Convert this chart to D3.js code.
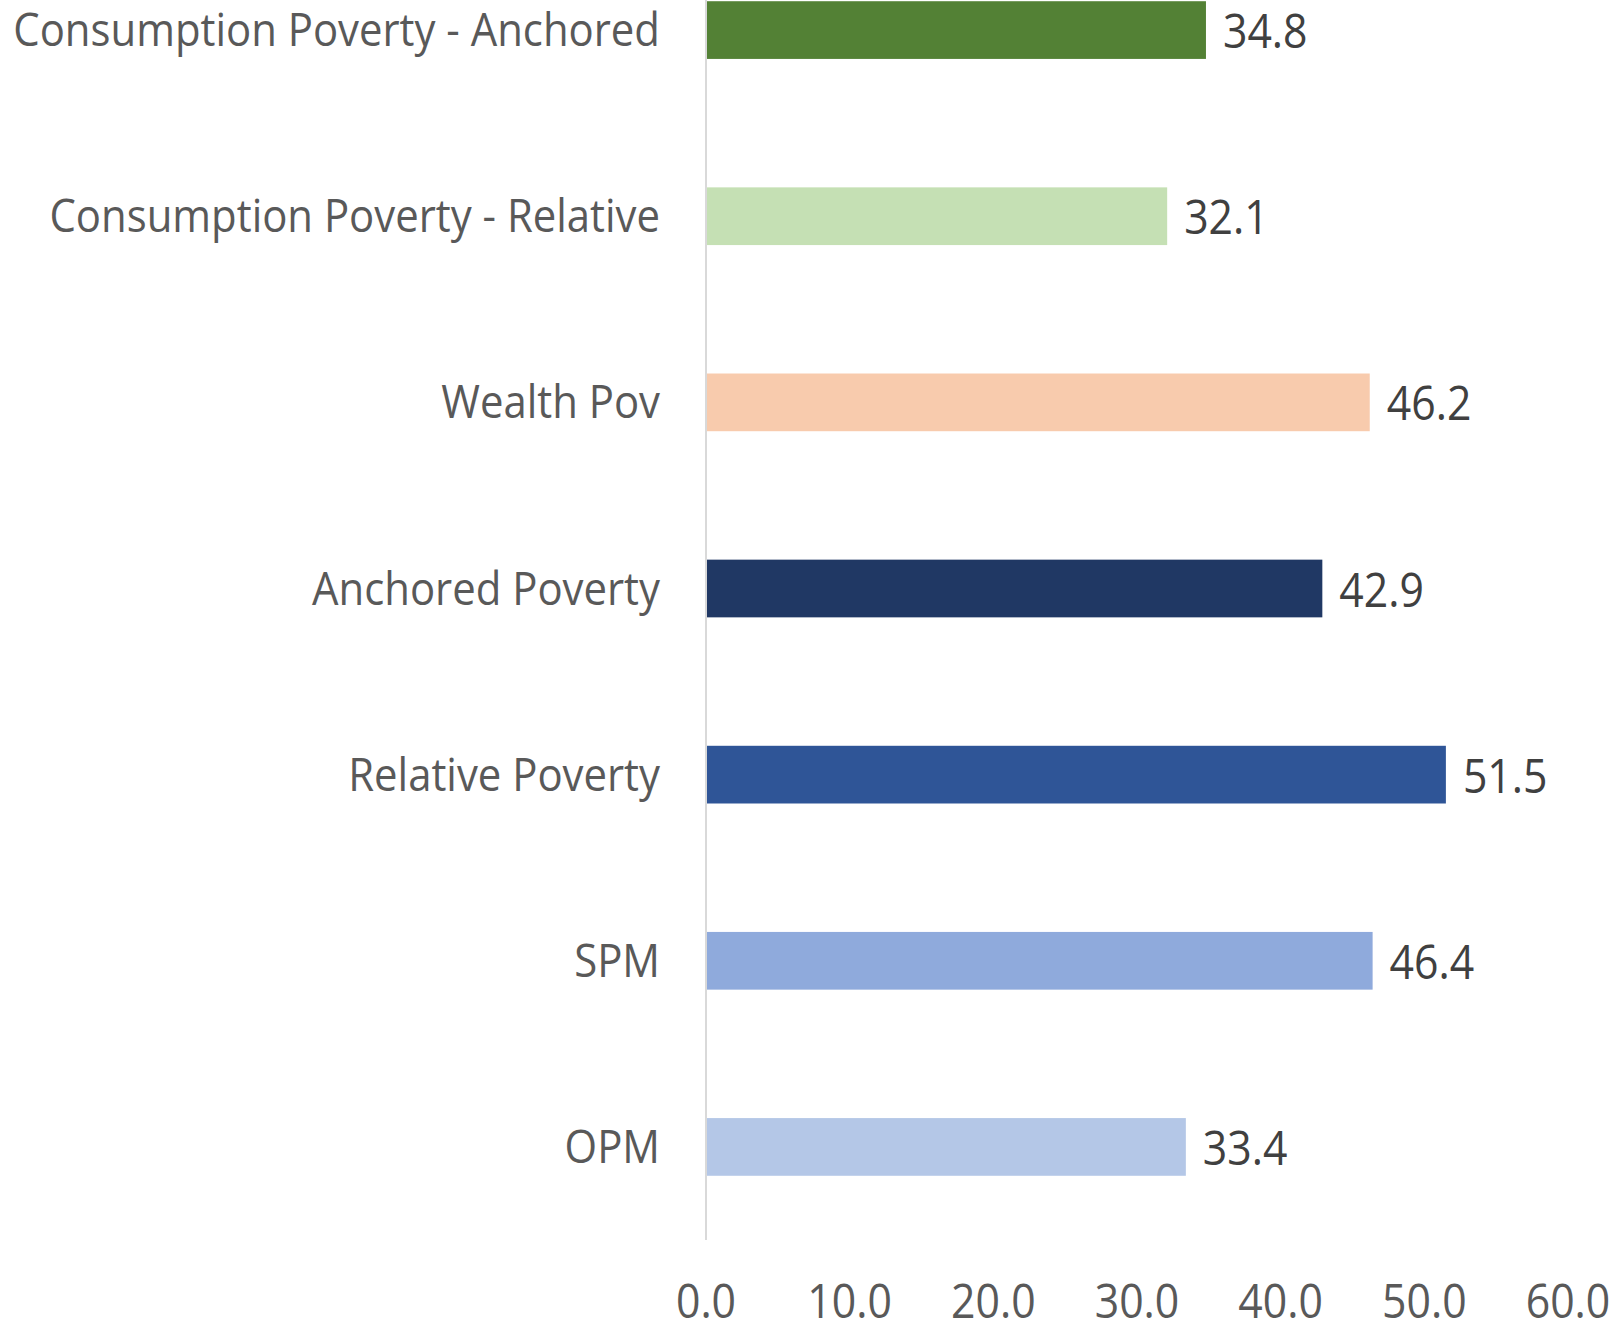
<!DOCTYPE html>
<html>
<head>
<meta charset="utf-8">
<script src="https://cdn.jsdelivr.net/npm/d3@7"></script>
<style>
  html, body { margin: 0; padding: 0; background: #fff; overflow: hidden; }
  text { font-family: 'Open Sans', sans-serif; }
</style>
</head>
<body>
<div id="chart"></div>
<script>
const width = 1617,
    height = 1323

// data, top to bottom as drawn
const categories = ['Consumption Poverty - Anchored', 'Consumption Poverty - Relative', 'Wealth Pov',
  'Anchored Poverty', 'Relative Poverty', 'SPM', 'OPM']
const values = [34.8, 32.1, 46.2, 42.9, 51.5, 46.4, 33.4]
const ticks = [0, 10, 20, 30, 40, 50, 60]

const barColors = ['#538135', '#C5E0B4', '#F8CBAD', '#203864', '#2F5597', '#8FAADC', '#B4C7E7']

const squeeze = 0.91   // narrow the glyphs a bit, like the original

const svg = d3.select('#chart')
  .append('svg')
    .attr('width', width)
    .attr('height', height)

const x = d3.scaleLinear()
  .domain([0, 60])
  .range([706, 1568])

const y = d3.scaleBand()
  .domain(categories)
  .range([-63, 1240])
  .paddingInner(0.69)
  .paddingOuter(0.345)

const color = d3.scaleOrdinal()
  .domain(categories)
  .range(barColors)

const rows = categories.map((c, i) => ({ name: c, value: values[i] }))

// bars
svg.selectAll('rect.bar')
  .data(rows)
  .join('rect')
    .attr('class', 'bar')
    .attr('x', x(0))
    .attr('y', d => y(d.name))
    .attr('width', d => x(d.value) - x(0))
    .attr('height', y.bandwidth())
    .attr('fill', d => color(d.name))

// vertical axis line
svg.append('line')
  .attr('x1', x(0)).attr('x2', x(0))
  .attr('y1', -63).attr('y2', 1240)
  .attr('stroke', '#D9D9D9')
  .attr('stroke-width', 2)

// category labels
svg.selectAll('text.cat')
  .data(rows)
  .join('text')
    .attr('class', 'cat squeeze')
    .attr('x', 660)
    .attr('y', d => y(d.name) + y.bandwidth() / 2 + 16)
    .attr('text-anchor', 'end')
    .style('font-size', '46px')
    .style('fill', '#595959')
    .text(d => d.name)

// value labels
svg.selectAll('text.val')
  .data(rows)
  .join('text')
    .attr('class', 'val squeeze')
    .attr('x', d => x(d.value) + 17)
    .attr('y', d => y(d.name) + y.bandwidth() / 2 + 18)
    .style('font-size', '47px')
    .style('fill', '#404040')
    .text(d => d.value.toFixed(1))

// x tick labels
svg.selectAll('text.tick')
  .data(ticks)
  .join('text')
    .attr('class', 'tick squeeze')
    .attr('x', d => x(d))
    .attr('y', 1318)
    .attr('text-anchor', 'middle')
    .style('font-size', '47px')
    .style('fill', '#595959')
    .text(d => d.toFixed(1))

// squeeze glyphs horizontally
svg.selectAll('text.squeeze').each(function() {
  const w = this.getComputedTextLength()
  d3.select(this)
    .attr('textLength', w * squeeze)
    .attr('lengthAdjust', 'spacingAndGlyphs')
})
</script>
</body>
</html>
